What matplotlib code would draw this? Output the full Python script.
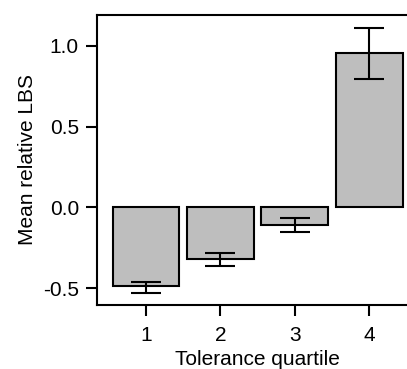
import numpy as np
import matplotlib
matplotlib.use("Agg")
import matplotlib.pyplot as plt

plt.rcParams['font.family'] = ['Liberation Sans', 'DejaVu Sans']

## data ##
quartiles = [1, 2, 3, 4]
mean_lbs = [-0.49, -0.322, -0.112, 0.955]
err_low = [-0.53, -0.366, -0.155, 0.794]
err_high = [-0.46, -0.285, -0.068, 1.11]

means = np.array(mean_lbs)
yerr = [means - np.array(err_low), np.array(err_high) - means]

fig = plt.figure(figsize=(4.07, 3.69), dpi=100)
ax = fig.add_axes([0.2383, 0.1734, 0.789, 0.786])

ax.bar(quartiles, mean_lbs, width=0.9, color='#bebebe', edgecolor='black', linewidth=1.5)
ax.errorbar(quartiles, mean_lbs, yerr=yerr, fmt='none', ecolor='black',
            elinewidth=1.5, capsize=10.8, capthick=1.5)

ax.set_xlim(0.34, 4.66)
ax.set_ylim(-0.605, 1.192)
ax.set_xticks(quartiles)
ax.set_yticks([-0.5, 0.0, 0.5, 1.0])
ax.set_yticklabels(['-0.5', '0.0', '0.5', '1.0'])

for s in ax.spines.values():
    s.set_linewidth(1.5)

ax.tick_params(direction='out', length=8, width=1.5, labelsize=15)
ax.tick_params(axis='x', pad=7)
ax.tick_params(axis='y', pad=5)
ax.set_xlabel('Tolerance quartile', fontsize=15, labelpad=4)
ax.set_ylabel('Mean relative LBS', fontsize=15, labelpad=4)

fig.savefig('out.png', dpi=100)
